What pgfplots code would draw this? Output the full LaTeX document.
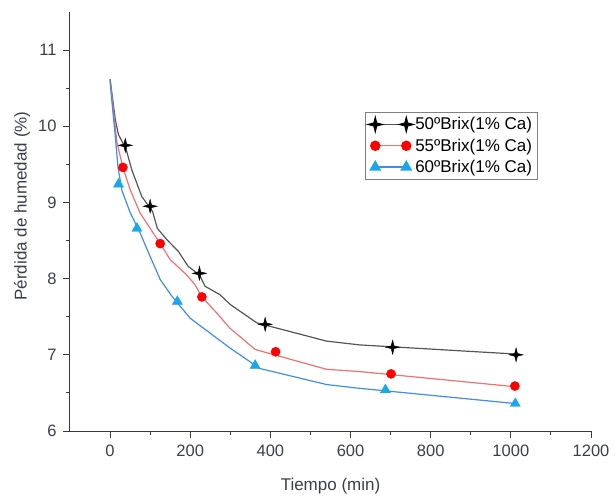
\documentclass[border=0pt]{standalone}
\usepackage{pgfplots}
\pgfplotsset{compat=1.18}
\usepackage{fontspec}
\setmainfont{Liberation Sans}
\definecolor{axgray}{HTML}{3A3A3A}
\definecolor{tickcol}{HTML}{3B3F4A}
\definecolor{blkline}{HTML}{555555}
\definecolor{redline}{HTML}{F27070}
\definecolor{redmark}{HTML}{FF0000}
\definecolor{blueline}{HTML}{3E8EE8}
\definecolor{bluemark}{HTML}{19A6EA}
\pgfdeclareplotmark{fourstar}{%
  \pgfpathmoveto{\pgfqpoint{0pt}{\pgfplotmarksize}}%
  \pgfpathlineto{\pgfqpoint{0.2\pgfplotmarksize}{0.2\pgfplotmarksize}}%
  \pgfpathlineto{\pgfqpoint{\pgfplotmarksize}{0pt}}%
  \pgfpathlineto{\pgfqpoint{0.2\pgfplotmarksize}{-0.2\pgfplotmarksize}}%
  \pgfpathlineto{\pgfqpoint{0pt}{-\pgfplotmarksize}}%
  \pgfpathlineto{\pgfqpoint{-0.2\pgfplotmarksize}{-0.2\pgfplotmarksize}}%
  \pgfpathlineto{\pgfqpoint{-\pgfplotmarksize}{0pt}}%
  \pgfpathlineto{\pgfqpoint{-0.2\pgfplotmarksize}{0.2\pgfplotmarksize}}%
  \pgfpathclose
  \pgfusepathqfillstroke}
\begin{document}
\begin{tikzpicture}
\begin{axis}[
  scale only axis, width=521pt, height=419pt,
  xmin=-100, xmax=1200, ymin=6, ymax=11.5,
  axis x line*=bottom, axis y line*=left,
  axis line style={-, axgray, line width=1pt},
  xtick={0,200,...,1200}, minor x tick num=1,
  ytick={6,7,8,9,10,11}, minor y tick num=1,
  tick align=outside, major tick length=7pt, minor tick length=4pt,
  tick style={axgray, line width=0.9pt},
  /pgf/number format/assume math mode=true,
  /pgf/number format/1000 sep={},
  tick label style={font=\fontsize{16.5}{19}\selectfont, text=tickcol},
  xticklabel style={yshift=-3pt},
  yticklabel style={xshift=-3pt},
  xlabel={Tiempo (min)}, ylabel={Pérdida de humedad (\%)},
  label style={font=\fontsize{17}{20}\selectfont, text=tickcol},
  x label style={at={(axis description cs:0.5,-0.141)}, anchor=base},
  y label style={at={(axis description cs:-0.092,0.537)}, anchor=center},
  legend style={at={(rel axis cs:0.566,0.761)}, anchor=north west,
    draw=gray, line width=0.8pt, font=\fontsize{17}{20}\selectfont,
    inner xsep=3pt, inner ysep=3pt, row sep=3.5pt},
  legend cell align=left,
  legend image code/.code={\draw[mark repeat=2, mark phase=1, #1] plot coordinates {(0pt,0pt) (15.5pt,0pt) (31pt,0pt)};},
]
% fitted lines
\addplot[blkline, line width=1.2pt, forget plot] coordinates {
(0,10.62) (13,10.09) (21,9.89) (40,9.70) (54,9.43) (79,9.08) (106,8.88) (118,8.66)
(142,8.51) (170,8.36) (195,8.16) (223,8.05) (237,7.90) (274,7.79) (300,7.66)
(366,7.42) (540,7.18) (623,7.13) (1012,7.01)};
\addplot[redline, line width=1.2pt, forget plot] coordinates {
(0,10.60) (9,10.18) (17,9.79) (32,9.46) (50,9.17) (75,8.86) (125,8.46) (150,8.25)
(191,8.05) (212,7.92) (229,7.76) (266,7.55) (299,7.35) (362,7.07) (540,6.81)
(623,6.78) (1013,6.58)};
\addplot[blueline, line width=1.2pt, forget plot] coordinates {
(0,10.60) (5,10.30) (13,9.87) (20,9.45) (30,9.15) (50,8.87) (75,8.60) (100,8.29)
(125,7.99) (154,7.77) (200,7.48) (299,7.09) (374,6.82) (540,6.61) (623,6.56)
(1012,6.36)};
% data points
\addplot[only marks, mark=fourstar, mark size=7pt, black, fill=black, forget plot] coordinates {
(38,9.75) (100,8.95) (223,8.07) (387,7.40) (705,7.10) (1013,7.00)};
\addplot[only marks, mark=*, mark size=4.6pt, redmark, fill=redmark, forget plot] coordinates {
(32,9.46) (125,8.46) (229,7.76) (413,7.04) (701,6.75) (1010,6.59)};
\addplot[only marks, mark=triangle*, mark size=5.8pt, bluemark, fill=bluemark, forget plot] coordinates {
(21,9.24) (67,8.66) (168,7.70) (362,6.86) (687,6.54) (1011,6.36)};
\addlegendimage{blkline, line width=1.2pt, mark=fourstar, mark size=7pt, mark options={black, fill=black}}
\addlegendentry{50ºBrix(1\% Ca)}
\addlegendimage{redline, line width=1.2pt, mark=*, mark size=4.6pt, mark options={redmark, fill=redmark}}
\addlegendentry{55ºBrix(1\% Ca)}
\addlegendimage{blueline, line width=1.2pt, mark=triangle*, mark size=5.8pt, mark options={bluemark, fill=bluemark}}
\addlegendentry{60ºBrix(1\% Ca)}
\end{axis}
\pgfresetboundingbox
\path (-70pt,-65pt) rectangle (545pt,431pt);
\end{tikzpicture}
\end{document}
